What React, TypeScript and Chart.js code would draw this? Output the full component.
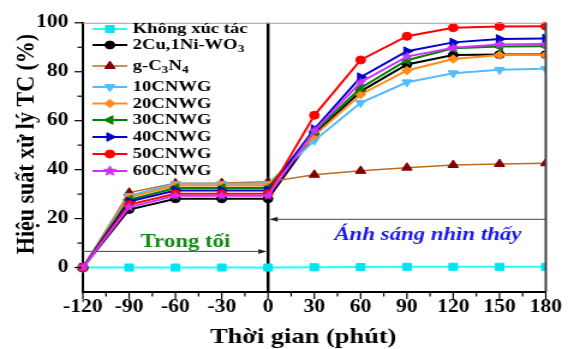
import React, { useEffect, useRef } from 'react';
import { Chart, registerables } from 'chart.js';

Chart.register(...registerables);

// ---------- data ----------
const times = [-120, -90, -60, -30, 0, 30, 60, 90, 120, 150, 180];
const seriesNames = ['Không xúc tác', '2Cu,1Ni-WO₃', 'g-C₃N₄', '10CNWG', '20CNWG', '30CNWG', '40CNWG', '50CNWG', '60CNWG'];
const khongXucTac = [0, 0, 0, 0, 0, 0.1, 0.2, 0.3, 0.3, 0.3, 0.3];
const cuNiWO3 = [0, 23.7, 28.1, 28.1, 28.1, 54.5, 72.0, 83.0, 86.8, 87.0, 87.0];
const gC3N4 = [0, 30.6, 34.4, 34.5, 35.0, 37.9, 39.5, 40.8, 41.9, 42.3, 42.6];
const cnwg10 = [0, 29.3, 34.2, 34.2, 34.2, 51.9, 67.3, 75.7, 79.4, 80.8, 81.2];
const cnwg20 = [0, 28.7, 33.5, 33.5, 33.5, 53.9, 70.7, 80.5, 85.2, 86.8, 86.8];
const cnwg30 = [0, 27.7, 32.5, 32.5, 32.5, 55.5, 73.4, 84.7, 89.6, 90.3, 90.4];
const cnwg40 = [0, 27.0, 31.5, 31.5, 31.5, 56.6, 77.8, 88.4, 92.0, 93.4, 93.6];
const cnwg50 = [0, 25.7, 30.1, 30.1, 30.1, 62.2, 84.8, 94.5, 98.0, 98.5, 98.6];
const cnwg60 = [0, 24.7, 29.3, 29.3, 29.3, 55.9, 75.7, 86.2, 89.8, 91.1, 91.3];
const seriesValues = [khongXucTac, cuNiWO3, gC3N4, cnwg10, cnwg20, cnwg30, cnwg40, cnwg50, cnwg60];

const xTitle = 'Thời gian (phút)';
const yTitle = 'Hiệu suất xử lý TC (%)';
const darkLabel = 'Trong tối';
const lightLabel = 'Ánh sáng nhìn thấy';

// ---------- styles / layout ----------
const W = 473;
const H = 349;
const SX = 568 / W;
const FONT = "'Times New Roman', 'Liberation Serif', serif";

const seriesStyles = [
  { line: '#22ffff', fill: '#00e5ee', style: 'rect', r: 5, rot: 0, bw: 2 },
  { line: '#000000', fill: '#000000', style: 'circle', r: 4, rot: 0, bw: 2 },
  { line: '#c0691f', fill: '#800000', style: 'triangle', r: 5, rot: 0, bw: 1.5 },
  { line: '#55bbff', fill: '#55bbff', style: 'triangle', r: 4.8, rot: 180, bw: 2 },
  { line: '#ff8c1a', fill: '#ff8c1a', style: 'rectRot', r: 4.3, rot: 0, bw: 2 },
  { line: '#008000', fill: '#008000', style: 'triangle', r: 5, rot: 270, bw: 2 },
  { line: '#0000cc', fill: '#0000cc', style: 'triangle', r: 5, rot: 90, bw: 2 },
  { line: '#ff0000', fill: '#ff0000', style: 'circle', r: 4, rot: 0, bw: 2 },
  { line: '#cc33ff', fill: '#cc33ff', style: 'star', r: 5.2, rot: 0, bw: 2 },
];

function starPath(ctx: CanvasRenderingContext2D, cx: number, cy: number, r: number) {
  ctx.beginPath();
  for (let i = 0; i < 10; i++) {
    const ang = -Math.PI / 2 + (i * Math.PI) / 5;
    const rad = i % 2 === 0 ? r : r * 0.45;
    ctx.lineTo(cx + rad * Math.cos(ang), cy + rad * Math.sin(ang));
  }
  ctx.closePath();
}

function makeStar(color: string, r: number) {
  const c = document.createElement('canvas');
  const s = Math.ceil(r * 2 + 2);
  c.width = s;
  c.height = s;
  const ctx = c.getContext('2d')!;
  ctx.fillStyle = color;
  starPath(ctx, s / 2, s / 2, r);
  ctx.fill();
  return c;
}

function drawMarker(ctx: CanvasRenderingContext2D, st: any, x: number, y: number) {
  const r = st.r;
  ctx.save();
  ctx.fillStyle = st.fill;
  ctx.strokeStyle = st.fill;
  ctx.lineWidth = 1;
  if (st.style === 'circle') {
    ctx.beginPath();
    ctx.arc(x, y, r, 0, Math.PI * 2);
  } else if (st.style === 'rect') {
    const s = r * Math.SQRT1_2;
    ctx.beginPath();
    ctx.rect(x - s, y - s, 2 * s, 2 * s);
  } else if (st.style === 'rectRot') {
    ctx.beginPath();
    ctx.moveTo(x - r, y);
    ctx.lineTo(x, y - r);
    ctx.lineTo(x + r, y);
    ctx.lineTo(x, y + r);
    ctx.closePath();
  } else if (st.style === 'triangle') {
    let rad = (st.rot * Math.PI) / 180;
    ctx.beginPath();
    for (let i = 0; i < 3; i++) {
      const px = x + Math.sin(rad) * r;
      const py = y - Math.cos(rad) * r;
      if (i === 0) ctx.moveTo(px, py);
      else ctx.lineTo(px, py);
      rad += (2 * Math.PI) / 3;
    }
    ctx.closePath();
  } else if (st.style === 'star') {
    starPath(ctx, x, y, r);
  }
  ctx.fill();
  ctx.stroke();
  ctx.restore();
}

const SUBS: Record<string, string> = { '₀': '0', '₁': '1', '₂': '2', '₃': '3', '₄': '4', '₅': '5', '₆': '6', '₇': '7', '₈': '8', '₉': '9' };

function drawRichText(ctx: CanvasRenderingContext2D, text: string, x: number, y: number, size: number) {
  let cx = x;
  let buf = '';
  let sub = false;
  const flush = () => {
    if (!buf) return;
    ctx.font = `bold ${sub ? size * 0.72 : size}px ${FONT}`;
    ctx.fillText(buf, cx, sub ? y + size * 0.28 : y);
    cx += ctx.measureText(buf).width;
    buf = '';
  };
  for (const ch of text) {
    const isSub = ch in SUBS;
    if (isSub !== sub) {
      flush();
      sub = isSub;
    }
    buf += isSub ? SUBS[ch] : ch;
  }
  flush();
}

const legendRows = [29, 45, 66, 87, 103.5, 120, 137, 154, 171];

const customPlugin = {
  id: 'custom',
  beforeDatasetsDraw(chart: any) {
    const { ctx, chartArea: a, scales } = chart;
    const xs = scales.x;
    const ys = scales.y;
    const x0 = xs.getPixelForValue(0);
    ctx.save();
    // arrows
    ctx.strokeStyle = '#444';
    ctx.fillStyle = '#222';
    ctx.lineWidth = 1;
    const y1 = ys.getPixelForValue(6.6);
    ctx.beginPath();
    ctx.moveTo(a.left, y1);
    ctx.lineTo(x0 - 2, y1);
    ctx.stroke();
    ctx.beginPath();
    ctx.moveTo(x0 - 1.5, y1);
    ctx.lineTo(x0 - 8, y1 - 2.5);
    ctx.lineTo(x0 - 8, y1 + 2.5);
    ctx.closePath();
    ctx.fill();
    const y2 = ys.getPixelForValue(19.7);
    ctx.beginPath();
    ctx.moveTo(a.right, y2);
    ctx.lineTo(x0 + 2, y2);
    ctx.stroke();
    ctx.beginPath();
    ctx.moveTo(x0 + 1.5, y2);
    ctx.lineTo(x0 + 8, y2 - 2.5);
    ctx.lineTo(x0 + 8, y2 + 2.5);
    ctx.closePath();
    ctx.fill();
    // labels
    ctx.textAlign = 'center';
    ctx.textBaseline = 'middle';
    ctx.font = `bold 19px ${FONT}`;
    ctx.fillStyle = '#178a17';
    ctx.fillText(darkLabel, xs.getPixelForValue(-53.5), ys.getPixelForValue(10.2));
    ctx.font = `italic bold 19px ${FONT}`;
    ctx.fillStyle = '#1a1aee';
    ctx.fillText(lightLabel, xs.getPixelForValue(103.6), ys.getPixelForValue(13.4));
    // vertical line at t = 0
    ctx.strokeStyle = '#000';
    ctx.lineWidth = 2.5;
    ctx.beginPath();
    ctx.moveTo(x0, a.top);
    ctx.lineTo(x0, a.bottom);
    ctx.stroke();
    ctx.restore();
  },
  afterDatasetsDraw(chart: any) {
    const { ctx, chartArea: a } = chart;
    ctx.save();
    ctx.strokeStyle = '#a0a0a0';
    ctx.lineWidth = 1;
    ctx.beginPath();
    ctx.moveTo(a.left, a.top + 0.5);
    ctx.lineTo(a.right, a.top + 0.5);
    ctx.stroke();
    ctx.strokeStyle = '#444';
    ctx.lineWidth = 2;
    ctx.beginPath();
    ctx.moveTo(a.right, a.top);
    ctx.lineTo(a.right, a.bottom);
    ctx.stroke();
    ctx.restore();
  },
  afterDraw(chart: any) {
    const { ctx, chartArea: a, scales } = chart;
    const xs = scales.x;
    const ys = scales.y;
    ctx.save();
    ctx.strokeStyle = '#000';
    ctx.lineWidth = 1.2;
    // y ticks
    for (let v = 0; v <= 100; v += 10) {
      const py = ys.getPixelForValue(v);
      const len = v % 20 === 0 ? 6 : 3.5;
      ctx.beginPath();
      ctx.moveTo(a.left - 1, py);
      ctx.lineTo(a.left - 1 - len, py);
      ctx.stroke();
    }
    // x ticks
    for (let v = -120; v <= 180; v += 15) {
      const px = xs.getPixelForValue(v);
      const len = v % 30 === 0 ? 6 : 3.5;
      ctx.beginPath();
      ctx.moveTo(px, a.bottom + 1);
      ctx.lineTo(px, a.bottom + 1 + len);
      ctx.stroke();
    }
    // axis titles
    ctx.fillStyle = '#000';
    ctx.font = `bold 22px ${FONT}`;
    ctx.textAlign = 'center';
    ctx.textBaseline = 'alphabetic';
    ctx.fillText(xTitle, 252.5, 343);
    ctx.save();
    ctx.translate(28, 144);
    ctx.rotate(-Math.PI / 2);
    ctx.fillText(yTitle, 0, 0);
    ctx.restore();
    // legend
    const lx0 = 77;
    const lx1 = 106;
    const tx = 110.5;
    ctx.textAlign = 'left';
    ctx.textBaseline = 'middle';
    chart.data.datasets.forEach((ds: any, i: number) => {
      const st = seriesStyles[i];
      const y = legendRows[i];
      ctx.strokeStyle = st.line;
      ctx.lineWidth = st.bw;
      ctx.beginPath();
      ctx.moveTo(lx0, y);
      ctx.lineTo(lx1, y);
      ctx.stroke();
      drawMarker(ctx, st, (lx0 + lx1) / 2, y);
      ctx.fillStyle = '#000';
      drawRichText(ctx, ds.label, tx, y, 15.5);
    });
    ctx.restore();
  },
};

export default function App() {
  const ref = useRef<HTMLCanvasElement>(null);
  useEffect(() => {
    document.body.style.margin = '0';
    const canvas = ref.current!;
    const n = seriesValues.length;
    const datasets = seriesValues.map((vals, i) => {
      const st = seriesStyles[i];
      return {
        label: seriesNames[i],
        data: times.map((t, j) => ({ x: t, y: vals[j] })),
        borderColor: st.line,
        backgroundColor: st.fill,
        borderWidth: st.bw,
        pointStyle: st.style === 'star' ? makeStar(st.fill, st.r) : st.style,
        pointRotation: st.rot,
        pointRadius: st.r,
        pointBackgroundColor: st.fill,
        pointBorderColor: st.fill,
        pointBorderWidth: 1,
        tension: 0,
        fill: false,
        order: n - i,
        clip: { left: 8, top: 8, right: 0, bottom: 8 },
      };
    });
    const chart = new Chart(canvas, {
      type: 'line',
      data: { datasets } as any,
      options: {
        responsive: false,
        animation: false,
        devicePixelRatio: 1,
        layout: { padding: { left: 0, right: 17, top: 19, bottom: 0 } },
        plugins: { legend: { display: false }, tooltip: { enabled: false } },
        scales: {
          x: {
            type: 'linear',
            min: -120,
            max: 180,
            afterFit: (s: any) => {
              s.height = 57;
            },
            grid: { display: false, drawTicks: false },
            border: { display: true, color: '#000', width: 2 },
            ticks: {
              stepSize: 15,
              autoSkip: false,
              maxRotation: 0,
              padding: 5,
              color: '#000',
              font: { family: FONT, size: 18, weight: 'bold' },
              callback: (v: any) => (Number(v) % 30 === 0 ? String(v) : ''),
            },
            title: { display: false, text: xTitle },
          },
          y: {
            type: 'linear',
            min: -10,
            max: 100,
            afterFit: (s: any) => {
              s.width = 69;
            },
            grid: { display: false, drawTicks: false },
            border: { display: true, color: '#000', width: 2 },
            ticks: {
              stepSize: 10,
              autoSkip: false,
              padding: 12,
              color: '#000',
              font: { family: FONT, size: 18, weight: 'bold' },
              callback: (v: any) => (Number(v) >= 0 && Number(v) % 20 === 0 ? String(v) : ''),
            },
            title: { display: false, text: yTitle },
          },
        },
      } as any,
      plugins: [customPlugin],
    });
    return () => chart.destroy();
  }, []);
  return (
    <div
      style={{
        position: 'fixed',
        left: 0,
        top: 0,
        width: W,
        height: H,
        transform: `scaleX(${SX})`,
        transformOrigin: '0 0',
      }}
    >
      <canvas ref={ref} width={W} height={H} style={{ display: 'block' }} />
    </div>
  );
}
